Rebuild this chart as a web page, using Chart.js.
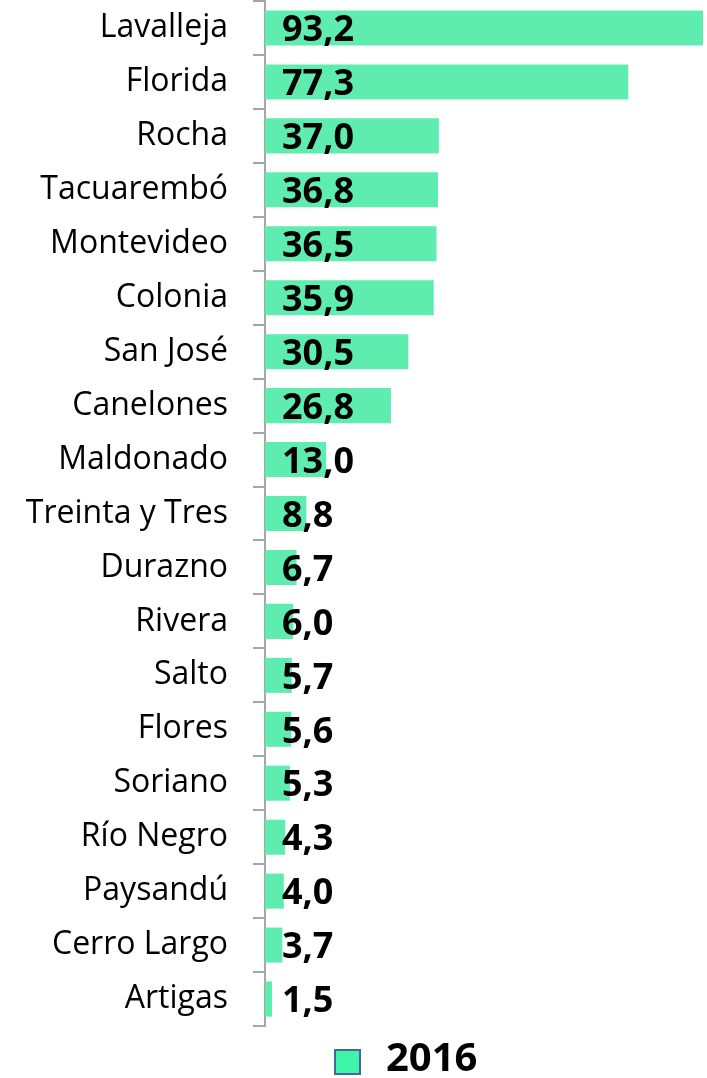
<!DOCTYPE html>
<html>
<head>
<meta charset="utf-8">
<script src="https://cdn.jsdelivr.net/npm/chart.js@4"></script>
<style>
  html, body { margin: 0; padding: 0; background: #fff; }
  #wrap { width: 707px; height: 1078px; position: relative; }
</style>
</head>
<body>
<div id="wrap"><canvas id="chart"></canvas></div>
<script>
// ── Data ────────────────────────────────────────────────────────────────
const DEPARTAMENTOS = [
  "Lavalleja", "Florida", "Rocha", "Tacuarembó", "Montevideo", "Colonia",
  "San José", "Canelones", "Maldonado", "Treinta y Tres", "Durazno", "Rivera",
  "Salto", "Flores", "Soriano", "Río Negro", "Paysandú", "Cerro Largo", "Artigas"
];
const VALORES_2016 = [
  93.2, 77.3, 37.0, 36.8, 36.5, 35.9, 30.5, 26.8, 13.0, 8.8,
  6.7, 6.0, 5.7, 5.6, 5.3, 4.3, 4.0, 3.7, 1.5
];
const SERIE = "2016";

// ── Colours ─────────────────────────────────────────────────────────────
const BAR    = "#5EEDAE";
const KEY    = "#3EF5AA";
const KEY_BD = "#41699A";
const AXIS   = "#A6A6A6";
const INK    = "#000000";
const FONT   = "'Open Sans', sans-serif";

function fmt(v) {
  return v.toFixed(1).replace(".", ",");
}

// value labels, drawn near the bar base
const valueLabels = {
  id: "valueLabels",
  afterDatasetsDraw(chart) {
    const { ctx } = chart;
    const meta = chart.getDatasetMeta(0);
    const x0 = chart.scales.x.getPixelForValue(0);
    ctx.save();
    ctx.fillStyle = INK;
    ctx.font = "bold 36px " + FONT;
    ctx.textAlign = "left";
    ctx.textBaseline = "middle";
    meta.data.forEach((bar, i) => {
      ctx.fillText(fmt(chart.data.datasets[0].data[i]), x0 + 17, bar.y + 3);
    });
    ctx.restore();
  }
};

// legend key at the bottom
const legendKey = {
  id: "legendKey",
  afterDraw(chart) {
    const { ctx } = chart;
    const ds = chart.data.datasets[0];
    ctx.save();
    ctx.fillStyle = KEY;
    ctx.fillRect(335, 1050, 25, 24);
    ctx.strokeStyle = KEY_BD;
    ctx.lineWidth = 2;
    ctx.strokeRect(335, 1050, 25, 24);
    ctx.fillStyle = INK;
    ctx.font = "bold 40px " + FONT;
    ctx.textAlign = "left";
    ctx.textBaseline = "alphabetic";
    ctx.fillText(ds.label, 386, 1071);
    ctx.restore();
  }
};

new Chart(document.getElementById("chart"), {
  type: "bar",
  data: {
    labels: DEPARTAMENTOS,
    datasets: [{
      label: SERIE,
      data: VALORES_2016,
      backgroundColor: BAR,
      borderWidth: 0,
      categoryPercentage: 1,
      barPercentage: 0.65,
    }],
  },
  options: {
    indexAxis: "y",
    responsive: true,
    maintainAspectRatio: false,
    animation: false,
    devicePixelRatio: 1,
    layout: { padding: { top: 1, right: 4, bottom: 52, left: 0 } },
    plugins: {
      legend: { display: false },
      tooltip: { enabled: false },
    },
    scales: {
      x: {
        display: false,
        min: 0,
        max: 93.2,
      },
      y: {
        afterFit: (scale) => {
          scale.width = 265;
          scale.paddingTop = 0;
          scale.paddingBottom = 0;
        },
        grid: {
          offset: true,
          drawOnChartArea: false,
          drawTicks: true,
          tickLength: 12,
          color: AXIS,
          lineWidth: 2,
        },
        border: { display: true, color: AXIS, width: 2 },
        ticks: {
          color: INK,
          padding: 25,
          autoSkip: false,
          font: { family: FONT, size: 32 },
        },
      },
    },
  },
  plugins: [valueLabels, legendKey],
});
</script>
</body>
</html>
